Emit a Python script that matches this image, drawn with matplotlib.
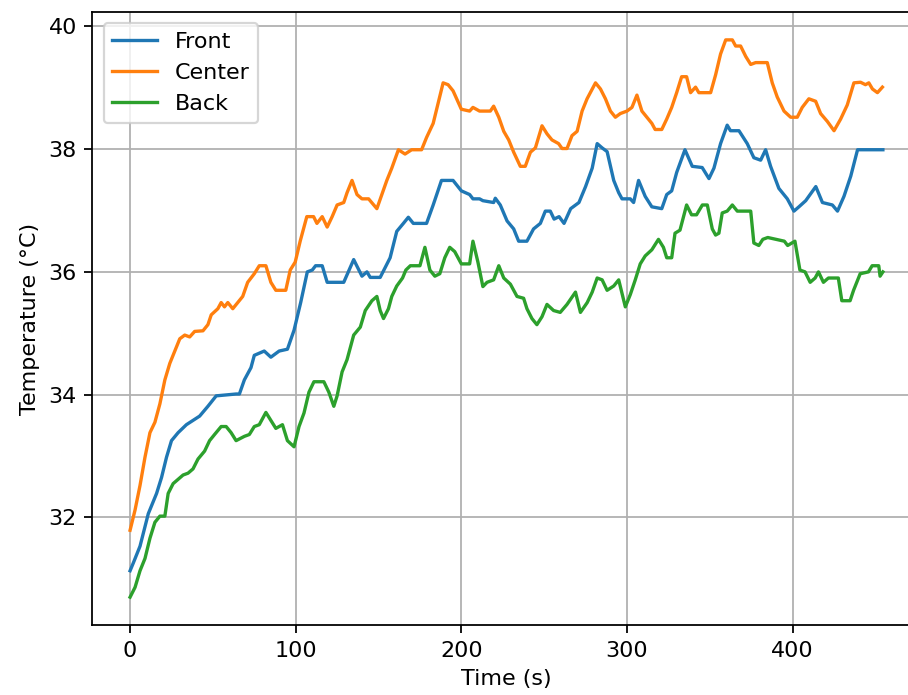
import matplotlib
matplotlib.use("Agg")
import matplotlib.pyplot as plt

# ---- data ----
front_t = [0, 2, 6, 11, 16, 19, 22, 25, 29, 34, 38, 42, 47, 52, 64, 66, 69, 73, 75, 81, 85, 90,
           95, 99, 103, 107, 110, 112, 116, 119, 129, 135, 140, 143, 145, 151, 157, 161, 165, 168,
           171, 179, 183, 188, 195, 200, 205, 207, 211, 213, 219.5, 220.5, 223.5, 227.6, 231.6,
           234.6, 239.6, 243.6, 247.7, 250.7, 253.7, 256, 259, 262, 266, 271, 275, 279, 282, 285,
           288, 292, 295, 297, 302, 304, 307, 309, 311, 315, 321, 324, 327, 330, 335, 339.4,
           345.4, 349.5, 352.5, 356.5, 360.5, 362.5, 367.6, 372.6, 376.6, 380.7, 383.7, 386.7,
           391.7, 396.8, 400.8, 403.8, 407.9, 414, 418, 424, 427.1, 431, 435.1, 439.2, 454.5]
front_v = [31.13, 31.26, 31.53, 32.06, 32.39, 32.65, 32.98, 33.25, 33.38, 33.51, 33.58, 33.65,
           33.81, 33.98, 34.01, 34.01, 34.24, 34.44, 34.64, 34.71, 34.61, 34.71, 34.74, 35.05,
           35.5, 36.0, 36.03, 36.1, 36.1, 35.83, 35.83, 36.2, 35.93, 36.0, 35.91, 35.91, 36.23,
           36.66, 36.79, 36.89, 36.79, 36.79, 37.09, 37.49, 37.49, 37.32, 37.26, 37.19, 37.19,
           37.16, 37.13, 37.2, 37.09, 36.83, 36.7, 36.5, 36.5, 36.7, 36.79, 36.99, 36.99, 36.86,
           36.9, 36.79, 37.03, 37.13, 37.39, 37.69, 38.09, 38.02, 37.96, 37.49, 37.29, 37.19,
           37.19, 37.13, 37.49, 37.36, 37.23, 37.06, 37.03, 37.26, 37.32, 37.62, 37.99, 37.72,
           37.7, 37.52, 37.69, 38.09, 38.39, 38.3, 38.3, 38.09, 37.86, 37.82, 37.99, 37.72,
           37.36, 37.19, 36.99, 37.06, 37.16, 37.39, 37.13, 37.09, 36.99, 37.23, 37.56, 37.99,
           37.99]

center_t = [0, 3, 6, 9, 12, 15, 18, 21, 24, 27, 30, 33, 36, 39, 44, 47, 49, 53, 55, 57, 59, 62,
            65, 68, 71, 75, 78, 82, 85, 88, 94, 96.7, 99.7, 102.7, 106.7, 110.8, 112.8, 116, 119,
            122, 125, 129, 131, 134, 137, 140, 144, 149, 152, 155, 158, 162, 166, 170, 176, 179,
            183, 186, 189, 192, 195, 200, 205, 207, 211, 217.5, 219.5, 222.6, 225.6, 228.6,
            231.6, 235.6, 238.6, 241.7, 244.7, 248.7, 251.7, 254.7, 258.7, 260.8, 263.8, 266.8,
            269.9, 272.9, 275.9, 279, 281, 284, 287, 290, 293, 296, 300, 303, 306, 309, 312, 315,
            317, 321, 324, 327, 330, 333, 336, 338.4, 341.4, 343.4, 350.5, 353.5, 356.5, 359.6,
            363.6, 365.6, 368.6, 371.7, 374.7, 377.7, 384.7, 387.7, 390.7, 394.8, 398.8, 402.8,
            405.8, 409.8, 413.9, 416.9, 421, 425, 429, 433, 437, 441, 444, 446, 448.2, 451.2,
            454.2]
center_v = [31.79, 32.12, 32.52, 32.98, 33.38, 33.55, 33.85, 34.24, 34.51, 34.71, 34.91, 34.97,
            34.94, 35.03, 35.04, 35.14, 35.3, 35.4, 35.5, 35.43, 35.5, 35.4, 35.5, 35.6, 35.83,
            35.97, 36.1, 36.1, 35.83, 35.7, 35.7, 36.03, 36.16, 36.5, 36.9, 36.9, 36.79, 36.9,
            36.73, 36.9, 37.09, 37.13, 37.29, 37.49, 37.26, 37.19, 37.19, 37.03, 37.26, 37.49,
            37.69, 37.99, 37.92, 37.99, 37.99, 38.19, 38.42, 38.75, 39.08, 39.05, 38.95, 38.65,
            38.62, 38.68, 38.62, 38.62, 38.7, 38.52, 38.29, 38.15, 37.95, 37.72, 37.72, 37.95,
            38.02, 38.38, 38.25, 38.15, 38.09, 38.01, 38.01, 38.22, 38.29, 38.62, 38.82, 38.98,
            39.08, 38.98, 38.82, 38.62, 38.52, 38.58, 38.62, 38.68, 38.88, 38.62, 38.52, 38.42,
            38.32, 38.32, 38.49, 38.68, 38.92, 39.18, 39.18, 38.92, 39.01, 38.92, 38.92, 39.21,
            39.55, 39.78, 39.78, 39.68, 39.68, 39.51, 39.38, 39.41, 39.41, 39.08, 38.85, 38.62,
            38.52, 38.52, 38.68, 38.82, 38.78, 38.58, 38.45, 38.3, 38.49, 38.72, 39.08, 39.09,
            39.05, 39.08, 38.98, 38.92, 39.01]

back_t = [0, 3, 6, 9, 12, 15, 18, 21, 23, 26, 29, 32, 35, 38, 41, 45, 48, 51, 55, 58, 61, 64, 69,
          72, 75, 78, 82, 85, 88, 92, 95, 99, 102, 105, 108, 111, 117, 120, 123, 125, 128, 131,
          135, 139, 142, 146, 149, 151, 153, 156, 158, 161, 164.5, 166.5, 169.2, 175, 178, 181,
          184, 187, 190, 193, 196, 200, 205, 207, 210, 213, 215.5, 219.5, 222.6, 225.6, 229.6,
          233.6, 237.6, 239.6, 242.6, 245.6, 248.7, 251.7, 255.7, 259.7, 263.8, 268.9, 271.9,
          276, 279, 282, 285, 288, 292, 295, 299, 302, 305, 308, 311, 315, 319, 322, 324, 327,
          329, 332, 336, 339, 342, 345.5, 348.5, 351.5, 353.5, 355.5, 357.5, 360.5, 363.6, 366.6,
          374.7, 376.6, 379.6, 382, 385, 390, 395, 397, 401.4, 404.4, 407.5, 410.6, 413.6, 415.6,
          418.6, 421.6, 427.6, 429.7, 434.7, 436.8, 440.8, 445.8, 448, 452, 452.8, 454.5]
back_v = [30.70, 30.86, 31.13, 31.33, 31.66, 31.92, 32.02, 32.02, 32.39, 32.55, 32.62, 32.69,
          32.72, 32.79, 32.95, 33.08, 33.25, 33.35, 33.48, 33.48, 33.38, 33.25, 33.32, 33.35,
          33.48, 33.51, 33.71, 33.58, 33.45, 33.51, 33.25, 33.15, 33.48, 33.7, 34.04, 34.21,
          34.21, 34.04, 33.81, 33.98, 34.37, 34.57, 34.97, 35.1, 35.37, 35.53, 35.6, 35.37, 35.24,
          35.4, 35.6, 35.77, 35.9, 36.03, 36.1, 36.1, 36.4, 36.03, 35.93, 35.97, 36.23, 36.4,
          36.33, 36.13, 36.13, 36.5, 36.16, 35.76, 35.83, 35.87, 36.1, 35.9, 35.8, 35.6, 35.57,
          35.4, 35.24, 35.14, 35.27, 35.47, 35.37, 35.34, 35.47, 35.67, 35.34, 35.5, 35.67, 35.9,
          35.87, 35.7, 35.77, 35.87, 35.43, 35.63, 35.87, 36.13, 36.26, 36.36, 36.53, 36.4,
          36.23, 36.23, 36.63, 36.68, 37.09, 36.93, 36.93, 37.09, 37.09, 36.7, 36.6, 36.63,
          36.96, 36.99, 37.09, 36.99, 36.99, 36.47, 36.43, 36.53, 36.56, 36.53, 36.5, 36.43,
          36.5, 36.03, 36.0, 35.83, 35.9, 36.0, 35.83, 35.9, 35.9, 35.53, 35.53, 35.7, 35.97,
          36.0, 36.1, 36.1, 35.93, 36.0]

series_names = ["Front", "Center", "Back"]

# ---- figure ----
DPI = 160
fig = plt.figure(figsize=(908 / DPI, 695 / DPI), dpi=DPI)
ax = fig.add_axes([0.1018, 0.1007, 0.912, 0.882])

ax.plot(front_t, front_v, label=series_names[0])
ax.plot(center_t, center_v, label=series_names[1])
ax.plot(back_t, back_v, label=series_names[2])

ax.set_xlabel("Time (s)")
ax.set_ylabel("Temperature (°C)")
ax.grid(True)
ax.legend(loc="upper left")

fig.savefig("out.png", dpi=DPI)
